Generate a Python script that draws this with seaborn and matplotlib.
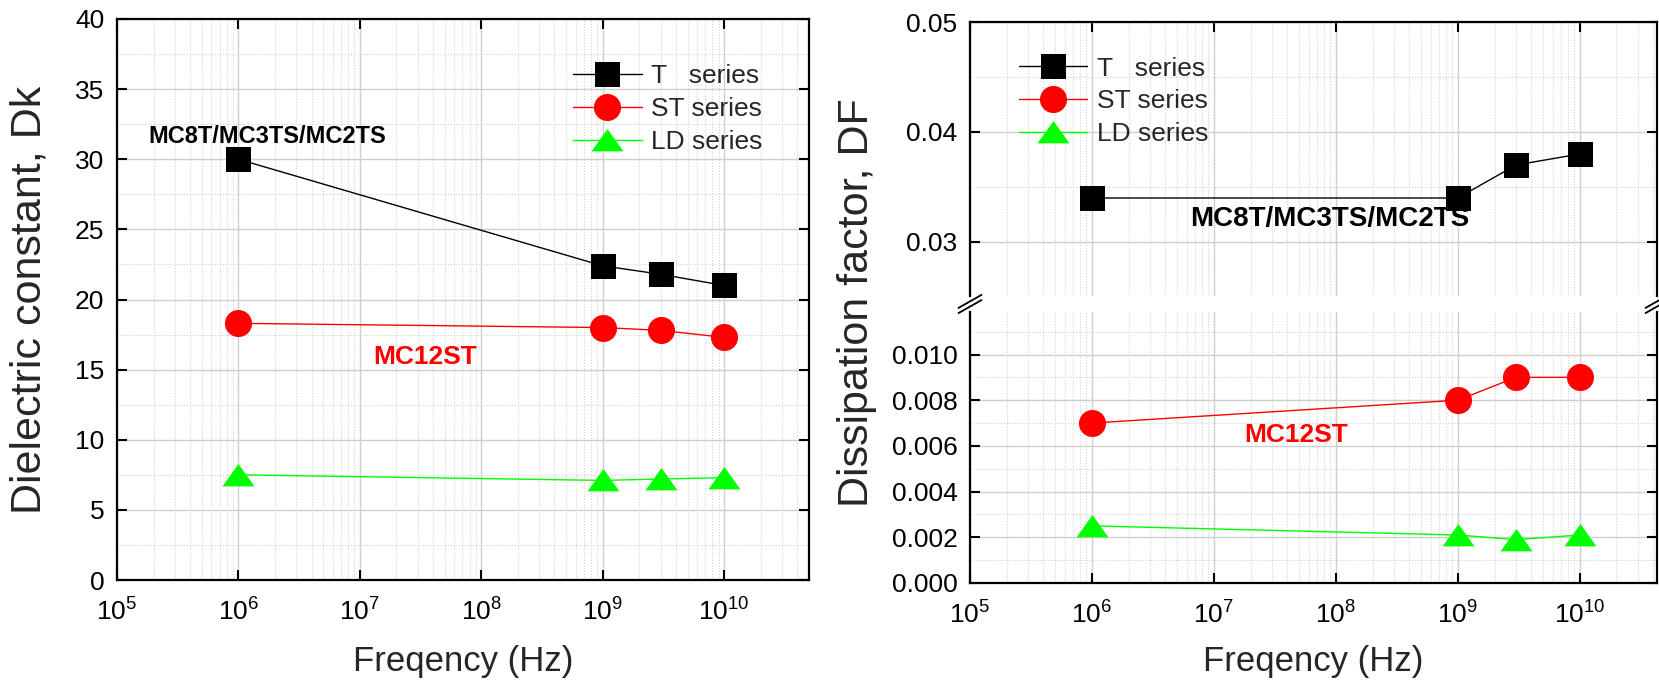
import numpy as np
import matplotlib
matplotlib.use("Agg")
import matplotlib.pyplot as plt
import seaborn as sns
from matplotlib.ticker import LogLocator, MultipleLocator, FixedLocator, NullFormatter, FormatStrFormatter
from matplotlib.lines import Line2D

# ---- data -------------------------------------------------------------
freq = [1e6, 1e9, 3e9, 1e10]

dk_t = [30.0, 22.4, 21.8, 21.0]
dk_st = [18.3, 18.0, 17.8, 17.3]
dk_ld = [7.5, 7.1, 7.2, 7.3]

df_t = [0.034, 0.034, 0.037, 0.038]
df_st = [0.007, 0.008, 0.009, 0.009]
df_ld = [0.0025, 0.0021, 0.0019, 0.0021]

series_names = ["T   series", "ST series", "LD series"]
series_colors = ["#000000", "#ff0000", "#00ff00"]

dk_ticks = [0, 5, 10, 15, 20, 25, 30, 35, 40]
df_hi_ticks = [0.03, 0.04, 0.05]
df_lo_ticks = [0.000, 0.002, 0.004, 0.006, 0.008, 0.010]

# ---- style ------------------------------------------------------------
sns.set_theme(style="white")
plt.rcParams["font.family"] = ["Liberation Sans", "DejaVu Sans"]
plt.rcParams["mathtext.default"] = "regular"

# wide, flattened triangle marker
TRI = [(-1, -0.68), (1, -0.68), (0, 0.72), (-1, -0.68)]
series_markers = ["s", "o", TRI]
series_msize = [18, 19.5, 23]

W, H = 1659, 685
fig = plt.figure(figsize=(W / 100, H / 100), dpi=100)


def box(x0, y0, x1, y1):
    return [x0 / W, 1 - y1 / H, (x1 - x0) / W, (y1 - y0) / H]


ax_dk = fig.add_axes(box(117, 19, 809, 580))
ax_hi = fig.add_axes(box(970, 22, 1657, 296))
ax_lo = fig.add_axes(box(970, 312, 1657, 583))


def style_axes(ax, xmax, top=True, bottom=True, labelbottom=True):
    ax.set_xscale("log")
    ax.set_xlim(1e5, xmax)
    ax.xaxis.set_major_locator(LogLocator(base=10, numticks=20))
    ax.xaxis.set_minor_locator(LogLocator(base=10, subs=np.arange(2, 10), numticks=20))
    ax.xaxis.set_minor_formatter(NullFormatter())
    ax.set_facecolor("white")
    ax.grid(which="major", color="#cfcfcf", linewidth=1.0, linestyle="-")
    ax.grid(which="minor", color="#d2d2d2", linewidth=0.8, linestyle=(0, (1, 1.5)))
    ax.set_axisbelow(True)
    for sp in ax.spines.values():
        sp.set_linewidth(1.6)
        sp.set_color("black")
    ax.spines["top"].set_visible(top)
    ax.spines["bottom"].set_visible(bottom)
    ax.tick_params(which="major", direction="in", length=7, width=1.5,
                   labelsize=19, colors="black", top=top, bottom=bottom,
                   left=True, right=True, labelbottom=labelbottom,
                   labelleft=True, labelright=False, labeltop=False, pad=9)
    ax.tick_params(axis="x", which="major", pad=13)
    ax.tick_params(which="minor", length=0)


def draw(ax, y, i):
    sns.lineplot(x=freq, y=y, ax=ax, color=series_colors[i], linewidth=1.0,
                 marker=series_markers[i], markersize=series_msize[i],
                 markeredgewidth=0, label=series_names[i], legend=False,
                 estimator=None, sort=False)


legend_kw = dict(loc="upper left", frameon=False, fontsize=19,
                 handlelength=2.6, handletextpad=0.35, labelspacing=0.34,
                 borderpad=0, borderaxespad=0, numpoints=1)

# ---- left: dielectric constant ----------------------------------------
style_axes(ax_dk, 5e10)
for i, y in enumerate([dk_t, dk_st, dk_ld]):
    draw(ax_dk, y, i)
ax_dk.set_ylim(0, 40)
ax_dk.yaxis.set_major_locator(FixedLocator(dk_ticks))
ax_dk.yaxis.set_minor_locator(MultipleLocator(2.5))
ax_dk.set_xlabel("Freqency (Hz)", fontsize=25)
ax_dk.set_ylabel("Dielectric constant, Dk", fontsize=31)
ax_dk.xaxis.set_label_coords(0.5, -0.116)
ax_dk.yaxis.set_label_coords(-0.097, 0.5)
ax_dk.text(0.045, 0.790, "MC8T/MC3TS/MC2TS", transform=ax_dk.transAxes,
           fontsize=17, fontweight="bold", color="black", ha="left", va="center")
ax_dk.text(0.445, 0.3975, "MC12ST", transform=ax_dk.transAxes,
           fontsize=19, fontweight="bold", color="#ff0000", ha="center", va="center")
ax_dk.legend(ax_dk.get_lines(), series_names, bbox_to_anchor=(0.659, 0.919),
             **legend_kw)

# ---- right: dissipation factor with a broken axis ----------------------
style_axes(ax_hi, 4.3e10, bottom=False, labelbottom=False)
style_axes(ax_lo, 4.3e10, top=False)
draw(ax_hi, df_t, 0)
draw(ax_lo, df_st, 1)
draw(ax_lo, df_ld, 2)

ax_hi.set_ylim(0.02509, 0.05)
ax_hi.yaxis.set_major_locator(FixedLocator(df_hi_ticks))
ax_hi.yaxis.set_minor_locator(MultipleLocator(0.005))
ax_hi.yaxis.set_major_formatter(FormatStrFormatter("%.2f"))

ax_lo.set_ylim(0, 0.01186)
ax_lo.yaxis.set_major_locator(FixedLocator(df_lo_ticks))
ax_lo.yaxis.set_minor_locator(MultipleLocator(0.001))
ax_lo.yaxis.set_major_formatter(FormatStrFormatter("%.3f"))

ax_lo.set_xlabel("Freqency (Hz)", fontsize=25)
ax_lo.set_ylabel("Dissipation factor, DF", fontsize=31)
ax_lo.xaxis.set_label_coords(0.5, -0.229)
ax_lo.yaxis.set_label_coords(-0.135, 1.035)

ax_hi.text(0.524, 0.28, "MC8T/MC3TS/MC2TS", transform=ax_hi.transAxes,
           fontsize=20, fontweight="bold", color="black", ha="center", va="center")
ax_lo.text(0.4745, 0.546, "MC12ST", transform=ax_lo.transAxes,
           fontsize=19, fontweight="bold", color="#ff0000", ha="center", va="center")

right_lines = ax_hi.get_lines() + ax_lo.get_lines()
ax_hi.legend(right_lines, series_names, bbox_to_anchor=(0.071, 0.874),
             **legend_kw)

# break marks on both y spines, spanning the gap between the two panels
hi_box = ax_hi.get_position()
lo_box = ax_lo.get_position()
gap_mid = (hi_box.y0 + lo_box.y1) / 2
dx, dy, sep = 11.5 / W, 6.5 / H, 2.6 / H
for xs in (hi_box.x0, hi_box.x1):
    for off in (sep, -sep):
        fig.add_artist(Line2D([xs - dx, xs + dx],
                              [gap_mid + off - dy, gap_mid + off + dy],
                              color="black", linewidth=1.3))

fig.savefig("out.png", dpi=100, facecolor="white")
